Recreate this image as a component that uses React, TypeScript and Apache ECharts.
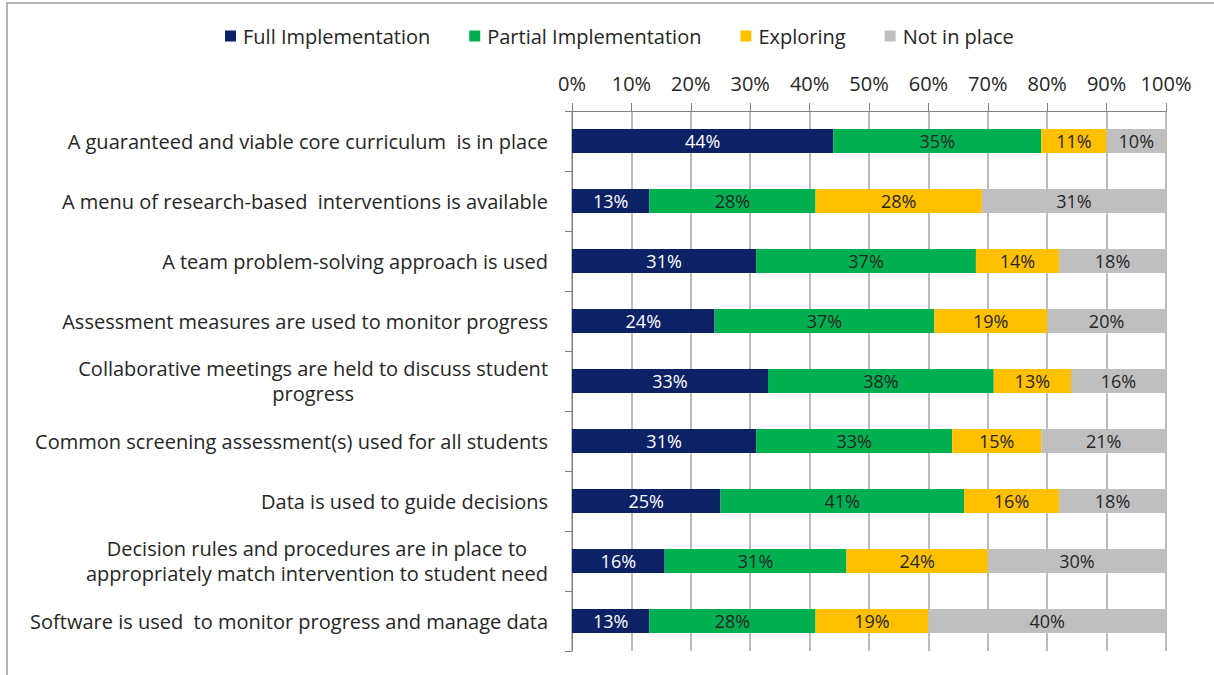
import React, { useEffect, useRef } from "react";
import * as echarts from "echarts";

const categories = [
  "A guaranteed and viable core curriculum  is in place",
  "A menu of research-based  interventions is available",
  "A team problem-solving approach is used",
  "Assessment measures are used to monitor progress",
  "Collaborative meetings are held to discuss student\nprogress",
  "Common screening assessment(s) used for all students",
  "Data is used to guide decisions",
  "Decision rules and procedures are in place to\nappropriately match intervention to student need",
  "Software is used  to monitor progress and manage data",
];

const seriesNames = ["Full Implementation", "Partial Implementation", "Exploring", "Not in place"];

const fullImpl = [44, 13, 31, 24, 33, 31, 25, 15.6, 13];
const partialImpl = [35, 28, 37, 37, 38, 33, 41, 30.6, 28];
const exploring = [11, 28, 14, 19, 13, 15, 16, 23.8, 19];
const notInPlace = [10, 31, 18, 20, 16, 21, 18, 30, 40];

const tickValues = [0, 10, 20, 30, 40, 50, 60, 70, 80, 90, 100];

const colors = ["#0c2166", "#00b050", "#ffc000", "#bfbfbf"];
const labelColors = ["#ffffff", "#262626", "#262626", "#262626"];
const FONT = "'Open Sans', 'Noto Sans', sans-serif";

export default function App() {
  const ref = useRef<HTMLDivElement>(null);
  useEffect(() => {
    document.body.style.margin = "0";
    const chart = echarts.init(ref.current!, null, { renderer: "svg" });
    const all = [fullImpl, partialImpl, exploring, notInPlace];
    chart.setOption({
      animation: false,
      backgroundColor: "#ffffff",
      textStyle: { fontFamily: FONT },
      graphic: [
        {
          type: "rect",
          shape: { x: 7, y: 3, width: 1400, height: 800 },
          style: { fill: "none", stroke: "#9a9a9a", lineWidth: 1.5 },
          silent: true,
        },
      ],
      legend: {
        top: 21,
        left: 220,
        itemWidth: 11,
        itemHeight: 11,
        itemGap: 39,
        icon: "rect",
        textStyle: { fontSize: 20, color: "#262626", fontFamily: FONT, padding: [0, 0, 0, 2] },
        data: seriesNames,
      },
      grid: { left: 572, right: 48, top: 111, height: 540, containLabel: false },
      xAxis: {
        type: "value",
        position: "top",
        min: 0,
        max: 100,
        interval: 10,
        axisLine: { show: true, lineStyle: { color: "#808080", width: 1 } },
        axisTick: { show: true, length: 8, lineStyle: { color: "#808080" } },
        splitLine: { show: true, lineStyle: { color: "#a6a6a6", width: 1.5 } },
        axisLabel: {
          margin: 18,
          fontSize: 20,
          color: "#262626",
          fontFamily: FONT,
          formatter: (v: number) => (tickValues.includes(v) ? v + "%" : ""),
        },
      },
      yAxis: {
        type: "category",
        inverse: true,
        data: categories,
        axisLine: { show: true, lineStyle: { color: "#808080", width: 1 } },
        axisTick: { show: true, length: 7, lineStyle: { color: "#808080" } },
        axisLabel: {
          margin: 24,
          color: "#262626",
          fontSize: 20,
          fontFamily: FONT,
          formatter: (v: string) =>
            v
              .split("\n")
              .map((l) => "{c|" + l + "}")
              .join("\n"),
          rich: {
            c: { align: "center", fontSize: 20, lineHeight: 25, color: "#262626", fontFamily: FONT },
          },
        },
      },
      series: all.map((d, i) => ({
        name: seriesNames[i],
        type: "bar",
        stack: "total",
        barWidth: 24,
        data: d,
        itemStyle: { color: colors[i] },
        label: {
          show: true,
          position: "inside",
          color: labelColors[i],
          fontSize: 18,
          fontFamily: FONT,
          formatter: (p: any) => Math.round(p.value) + "%",
        },
      })),
    });
    return () => chart.dispose();
  }, []);
  return <div ref={ref} style={{ width: 1214, height: 675 }} />;
}
